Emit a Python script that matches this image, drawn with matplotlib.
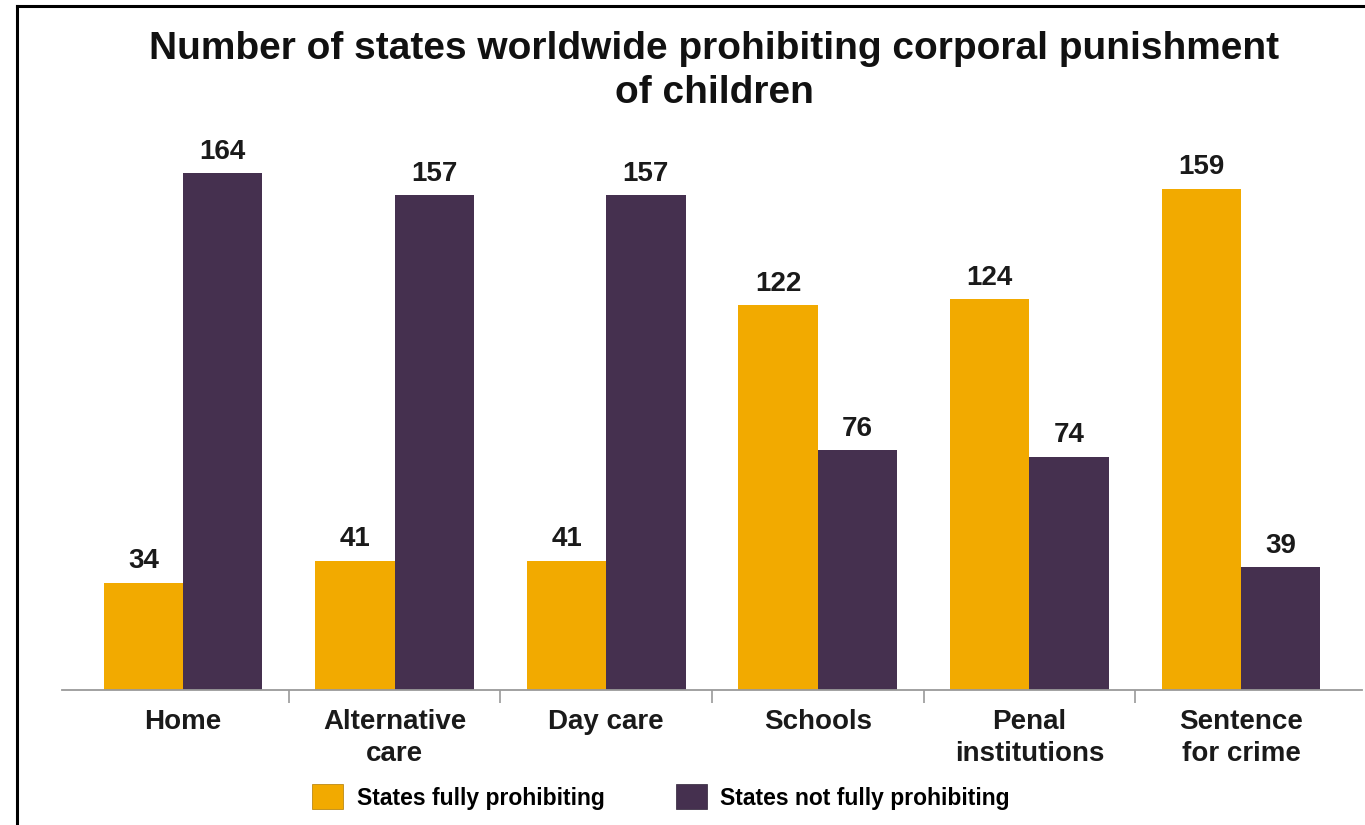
import numpy as np
import matplotlib
matplotlib.use('Agg')
from matplotlib import pyplot as plt
from matplotlib.patches import Patch
from matplotlib.lines import Line2D

# data
categories = ['Home', 'Alternative\ncare', 'Day care', 'Schools', 'Penal\ninstitutions', 'Sentence\nfor crime']
fully = [34, 41, 41, 122, 124, 159]
not_fully = [164, 157, 157, 76, 74, 39]
series_names = ['States fully prohibiting', 'States not fully prohibiting']

orange = '#F2AA00'
purple = '#45304F'

plt.rcParams['font.family'] = ['Liberation Sans', 'DejaVu Sans']
plt.rcParams['font.weight'] = 'bold'

W, H = 1365, 825
fig = plt.figure(figsize=(W / 100, H / 100), dpi=100)

# axes placed in pixel terms: baseline at y=690, x-range -0.572..5.572
ax = fig.add_axes([62 / W, 1 - 690 / H, 1300 / W, (690 - 138.4) / H])

x = np.arange(len(categories))
bw = 0.375
b1 = ax.bar(x - bw / 2, fully, bw, color=orange, label=series_names[0])
b2 = ax.bar(x + bw / 2, not_fully, bw, color=purple, label=series_names[1])

for bars in (b1, b2):
    ax.bar_label(bars, padding=6, fontsize=20, fontweight='bold', color='#1a1a1a')

ax.set_xlim(-0.572, 5.572)
ax.set_ylim(0, 175)
ax.set_yticks([])
for s in ['left', 'right', 'top']:
    ax.spines[s].set_visible(False)
ax.spines['bottom'].set_color('#9a9a9a')
ax.spines['bottom'].set_linewidth(1.3)

ax.set_xticks(x)
ax.set_xticklabels(categories, fontsize=20, fontweight='bold', color='#1a1a1a',
                   linespacing=1.3)
ax.tick_params(axis='x', which='major', length=0, pad=14)
ax.set_xticks(x[:-1] + 0.5, minor=True)
ax.tick_params(axis='x', which='minor', length=9, width=1.2, color='#9a9a9a', direction='out')

fig.text(714 / W, 1 - 71 / H,
         'Number of states worldwide prohibiting corporal punishment\nof children',
         ha='center', va='center', fontsize=28, fontweight='bold',
         linespacing=1.32, color='#111111')

handles = [Patch(facecolor=orange, edgecolor='#b07a00', linewidth=0.5),
           Patch(facecolor=purple, edgecolor='#2e2036', linewidth=0.5)]
fig.legend(handles, series_names, loc='center left',
           bbox_to_anchor=(312 / W, 1 - 797 / H), ncol=2, frameon=False,
           handlelength=1.35, handleheight=1.3,
           handletextpad=0.6, columnspacing=3.1, borderpad=0, borderaxespad=0,
           prop={'weight': 'bold', 'size': 16.5})

# frame at the left and top edge
fig.add_artist(Line2D([16.5 / W, 16.5 / W], [0, 1 - 6 / H], color='black', lw=2.2,
                      transform=fig.transFigure))
fig.add_artist(Line2D([16.5 / W, 1], [1 - 6 / H, 1 - 6 / H], color='black', lw=2.2,
                      transform=fig.transFigure))

fig.savefig('out.png', dpi=100)
